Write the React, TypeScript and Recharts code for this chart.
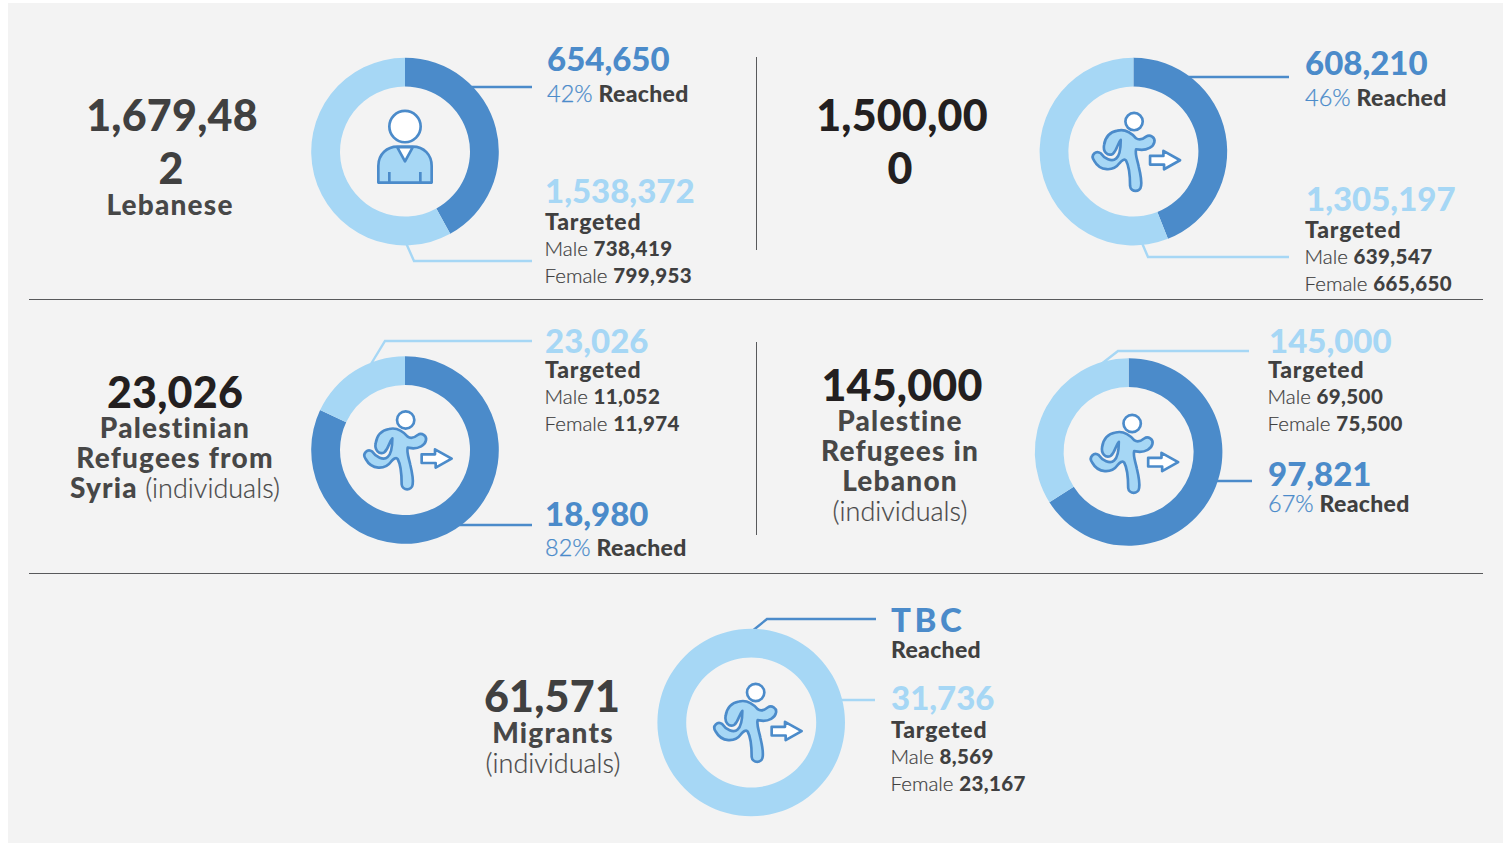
import { Cell, Pie, PieChart } from "recharts";

const DARK = "#4b8bca";
const LIGHT = "#a6d7f5";
const INK = "#404040";
const BLACK = "#231f20";
const BG = "#f3f3f3";
const RULE = "#58595b";

const NUM = "Lato, sans-serif";

// share of each ring drawn as reached, in percent
const ringNames = ["Lebanese", "Syrians", "PRS", "PRL", "Migrants"];
const reachedShare = [42, 44, 82, 66, 0];
const reachedLabels = ["654,650", "608,210", "18,980", "97,821", "TBC"];
const reachedPercents = ["42%", "46%", "82%", "67%", ""];
const targetedLabels = ["1,538,372", "1,305,197", "23,026", "145,000", "31,736"];
const maleLabels = ["738,419", "639,547", "11,052", "69,500", "8,569"];
const femaleLabels = ["799,953", "665,650", "11,974", "75,500", "23,167"];

// where each ring goes on the page
const ringCx = [405, 1133.4, 405, 1128.6, 751.2];
const ringCy = [151.6, 151.6, 450, 452, 722.5];

function ringData(i: number) {
  return [
    { name: "Reached", value: reachedShare[i] },
    { name: "Rest of targeted", value: 100 - reachedShare[i] },
  ];
}

function Big({ x, y, fill = INK, children }: any) {
  return (
    <text x={x} y={y} textAnchor="middle" fontFamily={NUM} fontWeight={900} fontSize={43} letterSpacing={0.2} fill={fill}>
      {children}
    </text>
  );
}

function Name({ x, y, children }: any) {
  return (
    <text x={x} y={y} textAnchor="middle" fontFamily={NUM} fontWeight={900} fontSize={28} letterSpacing={1.2} fill="#474747">
      {children}
    </text>
  );
}

function Figure({ x, y, fill, spacing = 0, children }: any) {
  return (
    <text x={x} y={y} fontFamily={NUM} fontWeight={900} fontSize={33} letterSpacing={spacing} fill={fill}>
      {children}
    </text>
  );
}

function Reached({ x, y, pct }: any) {
  return (
    <text x={x} y={y} fontFamily={NUM} fontSize={23}>
      <tspan fontWeight={300} fontSize={23.5} fill={DARK} stroke={DARK} strokeWidth={0.25}>{pct}</tspan>
      <tspan fontWeight={900} fill={INK} dx={6} letterSpacing={0.3}>Reached</tspan>
    </text>
  );
}

// Targeted / Male / Female block under the light figure
function Breakdown({ x, y, i }: any) {
  return (
    <g fontFamily={NUM} fontSize={20.5}>
      <text x={x} y={y} fontWeight={900} fontSize={23} letterSpacing={0.8} fill={INK}>Targeted</text>
      <text x={x - 0.5} y={y + 25.5} fill={INK}>
        <tspan fontWeight={300} stroke={INK} strokeWidth={0.2}>Male </tspan>
        <tspan fontWeight={900} letterSpacing={0.4}>{maleLabels[i]}</tspan>
      </text>
      <text x={x - 0.5} y={y + 52.5} fill={INK}>
        <tspan fontWeight={300} stroke={INK} strokeWidth={0.2}>Female </tspan>
        <tspan fontWeight={900} letterSpacing={0.4}>{femaleLabels[i]}</tspan>
      </text>
    </g>
  );
}

function Lead({ points, color }: any) {
  return <polyline points={points} fill="none" stroke={color} strokeWidth={2.4} />;
}

function Person({ cx, cy }: any) {
  return (
    <g transform={`translate(${cx} ${cy}) scale(0.3333) translate(-315 -335)`} stroke={DARK} strokeWidth={8} strokeLinejoin="round">
      <path d="M235 428 L235 378 C235 342 262 320 292 320 L338 320 C372 320 395 345 395 378 L395 428 Z" fill={LIGHT} />
      <path d="M292 322 L338 322 L315 364 Z" fill="#fff" />
      <path d="M268 396 L268 428 M361 396 L361 428" fill="none" />
      <circle cx={315} cy={260} r={47} fill="#fff" />
    </g>
  );
}

function Runner({ cx, cy }: any) {
  return (
    <g transform={`translate(${cx} ${cy}) scale(0.3333) translate(-310 -305)`} stroke={DARK} strokeWidth={8} strokeLinejoin="round">
      <path
        d="M262 242 C285 236 305 250 318 265 C328 272 338 268 348 260 C360 252 376 262 373 276 C370 292 350 300 335 300 L318 298 C314 312 322 330 326 350 C332 375 335 395 333 408 C331 428 302 428 300 408 C300 385 298 350 288 332 C283 325 275 332 268 340 C250 365 210 365 192 332 C180 315 198 300 212 310 C222 325 245 338 258 326 C268 318 272 295 272 270 C262 280 262 300 248 312 C232 320 218 305 222 285 C226 258 240 246 262 242 Z"
        fill={LIGHT}
      />
      <circle cx={312} cy={215} r={26} fill="#fff" />
      <path d="M360 318 L400 318 L400 303 L450 331 L402 358 L402 344 L360 344 Z" fill="#fff" />
    </g>
  );
}

export default function App() {
  return (
    <div style={{ position: "absolute", left: 0, top: 0, width: 1511, height: 843, background: "#fff", overflow: "hidden" }}>
      <div style={{ position: "absolute", left: 8, top: 3, width: 1495, height: 840, background: BG }} />
      <div style={{ position: "absolute", left: 0, top: 0 }}>
        <PieChart width={1511} height={843} margin={{ top: 0, right: 0, bottom: 0, left: 0 }}>
          {/* leader lines go under the rings */}
          <Lead points="465,87 532,87" color={DARK} />
          <Lead points="406,243 414,261 532,261" color={LIGHT} />
          <Lead points="1183,77 1289,77" color={DARK} />
          <Lead points="1142,243 1148,257 1289,257" color={LIGHT} />
          <Lead points="371,364 385,341 532,341" color={LIGHT} />
          <Lead points="455,525 532,525" color={DARK} />
          <Lead points="1100,365 1118,351 1249,351" color={LIGHT} />
          <Lead points="1212,481 1252,481" color={DARK} />
          <Lead points="751,632 767,619 876,619" color={DARK} />
          <Lead points="840,700 875,700" color={LIGHT} />

          {ringNames.map((name, i) => (
            <Pie
              key={name}
              data={ringData(i)}
              dataKey="value"
              cx={ringCx[i]}
              cy={ringCy[i]}
              innerRadius={65}
              outerRadius={93.8}
              startAngle={90}
              endAngle={-270}
              stroke="none"
              isAnimationActive={false}
            >
              <Cell fill={DARK} />
              <Cell fill={LIGHT} />
            </Pie>
          ))}

          {/* dividers */}
          <line x1={29} x2={1483} y1={299.5} y2={299.5} stroke={RULE} strokeWidth={1} />
          <line x1={29} x2={1483} y1={573.5} y2={573.5} stroke={RULE} strokeWidth={1} />
          <line x1={756.5} x2={756.5} y1={57} y2={250} stroke={RULE} strokeWidth={1} />
          <line x1={756.5} x2={756.5} y1={342} y2={535} stroke={RULE} strokeWidth={1} />

          <Person cx={405} cy={151.6} />
          <Runner cx={1133.4} cy={151.6} />
          <Runner cx={405} cy={450} />
          <Runner cx={1131.5} cy={453.5} />
          <Runner cx={755} cy={722.5} />

          {/* left-hand totals */}
          <Big x={172} y={130.5}>1,679,48</Big>
          <Big x={171} y={184}>2</Big>
          <Name x={170} y={215}>Lebanese</Name>

          <Big x={902} y={130.5} fill={BLACK}>1,500,00</Big>
          <Big x={900} y={184} fill={BLACK}>0</Big>

          <Big x={175} y={408} fill={BLACK}>23,026</Big>
          <Name x={175} y={438}>Palestinian</Name>
          <Name x={175} y={468}>Refugees from</Name>
          <text x={175} y={498} textAnchor="middle" fontFamily={NUM} fontSize={27} fill="#474747">
            <tspan fontWeight={900} fontSize={28} letterSpacing={1.2}>Syria</tspan>
            <tspan fontWeight={300} stroke="#474747" strokeWidth={0.2}> (individuals)</tspan>
          </text>

          <Big x={902} y={401} fill={BLACK}>145,000</Big>
          <Name x={900} y={431}>Palestine</Name>
          <Name x={900} y={461}>Refugees in</Name>
          <Name x={900} y={491}>Lebanon</Name>
          <text x={900} y={521} textAnchor="middle" fontFamily={NUM} fontWeight={300} fontSize={27} fill="#474747" stroke="#474747" strokeWidth={0.2}>(individuals)</text>

          <Big x={552} y={712}>61,571</Big>
          <Name x={553} y={743}>Migrants</Name>
          <text x={553} y={773} textAnchor="middle" fontFamily={NUM} fontWeight={300} fontSize={27} fill="#474747" stroke="#474747" strokeWidth={0.2}>(individuals)</text>

          {/* ring 1 */}
          <Figure x={547} y={71} fill={DARK}>{reachedLabels[0]}</Figure>
          <Reached x={547} y={102} pct={reachedPercents[0]} />
          <Figure x={545} y={203} fill={LIGHT}>{targetedLabels[0]}</Figure>
          <Breakdown x={545} y={230} i={0} />

          {/* ring 2 */}
          <Figure x={1305} y={75} fill={DARK}>{reachedLabels[1]}</Figure>
          <Reached x={1305} y={106} pct={reachedPercents[1]} />
          <Figure x={1306} y={210.5} fill={LIGHT}>{targetedLabels[1]}</Figure>
          <Breakdown x={1305} y={238} i={1} />

          {/* ring 3 */}
          <Figure x={545} y={352.5} fill={LIGHT}>{targetedLabels[2]}</Figure>
          <Breakdown x={545} y={378} i={2} />
          <Figure x={545} y={526} fill={DARK}>{reachedLabels[2]}</Figure>
          <Reached x={545} y={556} pct={reachedPercents[2]} />

          {/* ring 4 */}
          <Figure x={1269} y={352.5} fill={LIGHT}>{targetedLabels[3]}</Figure>
          <Breakdown x={1268} y={378} i={3} />
          <Figure x={1268} y={486} fill={DARK}>{reachedLabels[3]}</Figure>
          <Reached x={1268} y={512} pct={reachedPercents[3]} />

          {/* ring 5 */}
          <Figure x={891} y={632} fill={DARK} spacing={3.6}>{reachedLabels[4]}</Figure>
          <text x={891} y={658} fontFamily={NUM} fontWeight={900} fontSize={23} letterSpacing={0.3} fill={INK}>Reached</text>
          <Figure x={891} y={710} fill={LIGHT}>{targetedLabels[4]}</Figure>
          <Breakdown x={891} y={738} i={4} />
        </PieChart>
      </div>
    </div>
  );
}
